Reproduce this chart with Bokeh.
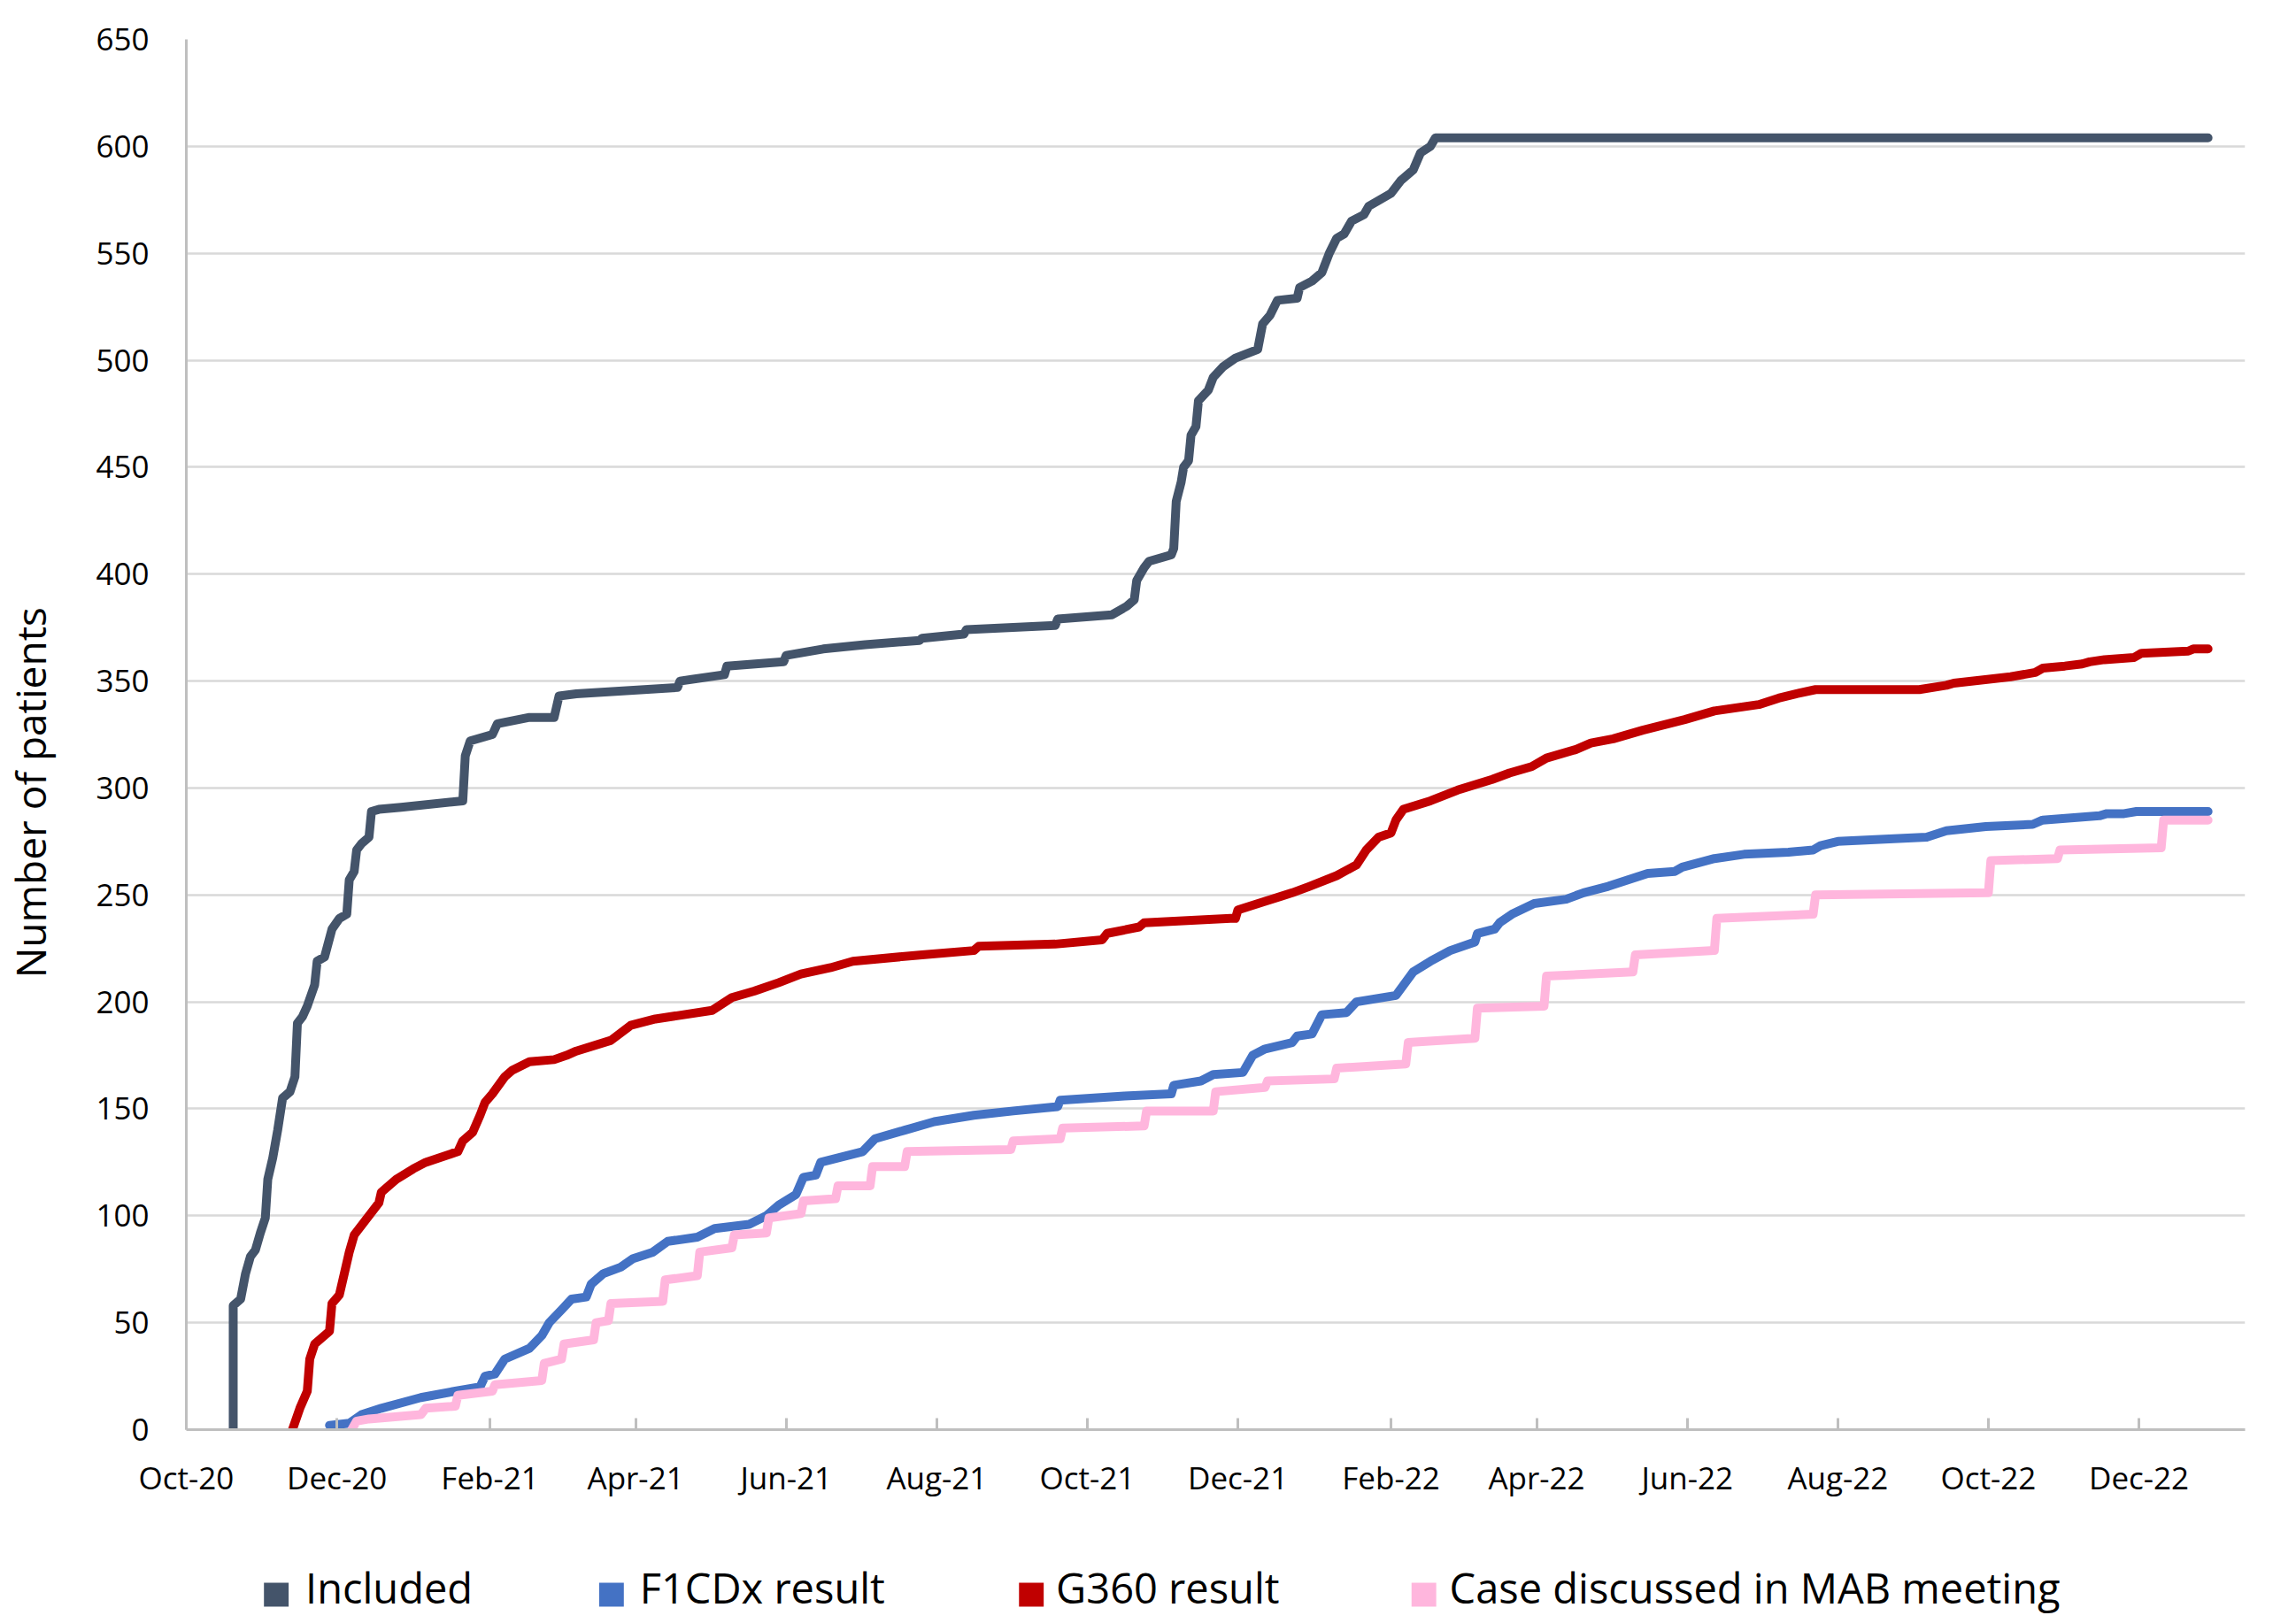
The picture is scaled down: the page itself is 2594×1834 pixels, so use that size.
import pandas as pd
from bokeh.plotting import figure
from bokeh.layouts import column
from bokeh.models import (ColumnDataSource, FixedTicker, DatetimeTickFormatter,
                          Range1d, SingleIntervalTicker)
from bokeh.core.properties import value
from bokeh.embed import file_html
from bokeh.resources import INLINE

# ---------------- data ----------------
included_dates = [
    "2020-10-20", "2020-10-20", "2020-10-23", "2020-10-25", "2020-10-27", "2020-10-29",
    "2020-10-31", "2020-11-02", "2020-11-03", "2020-11-05", "2020-11-07", "2020-11-09",
    "2020-11-12", "2020-11-14", "2020-11-15", "2020-11-17", "2020-11-19", "2020-11-22",
    "2020-11-23", "2020-11-26", "2020-11-29", "2020-12-02", "2020-12-05", "2020-12-06",
    "2020-12-08", "2020-12-09", "2020-12-11", "2020-12-14", "2020-12-15", "2020-12-18",
    "2020-12-27", "2021-01-21", "2021-01-22", "2021-01-24", "2021-02-02", "2021-02-04",
    "2021-02-17", "2021-02-27", "2021-03-01", "2021-03-08", "2021-04-18", "2021-04-19",
    "2021-05-07", "2021-05-08", "2021-05-31", "2021-06-01", "2021-06-16", "2021-07-03",
    "2021-07-25", "2021-07-26", "2021-08-12", "2021-08-13", "2021-09-18", "2021-09-19",
    "2021-10-11", "2021-10-17", "2021-10-20", "2021-10-21", "2021-10-24", "2021-10-26",
    "2021-11-04", "2021-11-05", "2021-11-06", "2021-11-08", "2021-11-09", "2021-11-11",
    "2021-11-12", "2021-11-14", "2021-11-15", "2021-11-19", "2021-11-21", "2021-11-25",
    "2021-11-30", "2021-12-09", "2021-12-11", "2021-12-14", "2021-12-17", "2021-12-25",
    "2021-12-26", "2021-12-31", "2022-01-04", "2022-01-07", "2022-01-10", "2022-01-13",
    "2022-01-16", "2022-01-21", "2022-01-23", "2022-02-01", "2022-02-05", "2022-02-10",
    "2022-02-13", "2022-02-17", "2022-02-19", "2022-12-29",
]
included_values = [
    0, 58, 61, 73, 81, 84,
    92, 99, 117, 127, 140, 155,
    158, 165, 190, 193, 198, 208,
    219, 221, 234, 239, 241, 257,
    261, 271, 274, 277, 289, 290,
    291, 294, 315, 322, 325, 330,
    333, 333, 343, 344, 347, 350,
    353, 357, 359, 362, 365, 367,
    369, 370, 372, 374, 376, 379,
    381, 385, 388, 397, 403, 406,
    409, 412, 434, 443, 450, 453,
    465, 469, 481, 486, 492, 497,
    501, 505, 517, 521, 528, 529,
    534, 537, 541, 550, 557, 559,
    565, 568, 572, 578, 584, 589,
    597, 600, 604, 604,
]

f1cdx_dates = [
    "2020-11-28", "2020-12-06", "2020-12-11", "2020-12-19", "2021-01-04", "2021-01-18",
    "2021-01-28", "2021-01-30", "2021-02-03", "2021-02-07", "2021-02-17", "2021-02-22",
    "2021-02-25", "2021-03-02", "2021-03-06", "2021-03-12", "2021-03-14", "2021-03-19",
    "2021-03-26", "2021-03-31", "2021-04-08", "2021-04-14", "2021-04-26", "2021-05-03",
    "2021-05-17", "2021-05-24", "2021-05-29", "2021-06-05", "2021-06-08", "2021-06-13",
    "2021-06-15", "2021-07-02", "2021-07-07", "2021-07-19", "2021-07-31", "2021-08-16",
    "2021-09-01", "2021-09-19", "2021-09-20", "2021-10-16", "2021-11-04", "2021-11-05",
    "2021-11-16", "2021-11-21", "2021-12-03", "2021-12-07", "2021-12-12", "2021-12-23",
    "2021-12-25", "2021-12-31", "2022-01-04", "2022-01-14", "2022-01-18", "2022-02-03",
    "2022-02-10", "2022-02-17", "2022-02-25", "2022-03-07", "2022-03-08", "2022-03-15",
    "2022-03-17", "2022-03-22", "2022-03-31", "2022-04-13", "2022-04-20", "2022-04-30",
    "2022-05-16", "2022-05-27", "2022-05-30", "2022-06-12", "2022-06-24", "2022-07-12",
    "2022-07-22", "2022-07-25", "2022-08-01", "2022-09-06", "2022-09-14", "2022-09-30",
    "2022-10-19", "2022-10-23", "2022-11-15", "2022-11-18", "2022-11-25", "2022-11-30",
    "2022-12-29",
]
f1cdx_values = [
    2, 3, 7, 10, 15, 18,
    20, 25, 26, 33, 38, 44,
    50, 56, 61, 62, 68, 73,
    76, 80, 83, 88, 90, 94,
    96, 100, 105, 110, 118, 119,
    125, 130, 136, 140, 144, 147,
    149, 151, 154, 156, 157, 161,
    163, 166, 167, 175, 178, 181,
    184, 185, 194, 195, 200, 203,
    214, 219, 224, 228, 232, 234,
    237, 241, 246, 248, 251, 254,
    260, 261, 263, 267, 269, 270,
    271, 273, 275, 277, 280, 282,
    283, 285, 287, 288, 288, 289,
    289,
]

g360_dates = [
    "2020-11-13", "2020-11-16", "2020-11-19", "2020-11-20", "2020-11-22", "2020-11-25",
    "2020-11-28", "2020-11-29", "2020-12-02", "2020-12-04", "2020-12-06", "2020-12-08",
    "2020-12-10", "2020-12-12", "2020-12-18", "2020-12-19", "2020-12-25", "2021-01-01",
    "2021-01-06", "2021-01-19", "2021-01-21", "2021-01-25", "2021-01-28", "2021-01-30",
    "2021-02-02", "2021-02-07", "2021-02-10", "2021-02-17", "2021-02-27", "2021-03-04",
    "2021-03-08", "2021-03-22", "2021-03-30", "2021-04-09", "2021-05-02", "2021-05-10",
    "2021-05-19", "2021-05-29", "2021-06-07", "2021-06-19", "2021-06-28", "2021-07-26",
    "2021-08-16", "2021-08-18", "2021-09-18", "2021-10-07", "2021-10-09", "2021-10-22",
    "2021-10-24", "2021-11-28", "2021-11-30", "2021-12-01", "2021-12-12", "2021-12-23",
    "2021-12-30", "2022-01-10", "2022-01-18", "2022-01-22", "2022-01-27", "2022-02-01",
    "2022-02-03", "2022-02-06", "2022-02-17", "2022-02-28", "2022-03-14", "2022-03-21",
    "2022-03-30", "2022-04-05", "2022-04-17", "2022-04-23", "2022-05-02", "2022-05-14",
    "2022-05-31", "2022-06-12", "2022-06-30", "2022-07-08", "2022-07-15", "2022-07-23",
    "2022-09-03", "2022-09-14", "2022-09-17", "2022-10-10", "2022-10-20", "2022-10-23",
    "2022-11-01", "2022-11-08", "2022-11-11", "2022-11-17", "2022-11-29", "2022-12-02",
    "2022-12-21", "2022-12-23", "2022-12-29",
]
g360_values = [
    0, 10, 18, 33, 40, 43,
    46, 59, 63, 73, 83, 91,
    94, 97, 106, 111, 117, 122,
    125, 130, 135, 139, 147, 153,
    157, 165, 168, 172, 173, 175,
    177, 182, 189, 192, 196, 202,
    205, 209, 213, 216, 219, 222,
    224, 226, 227, 229, 232, 235,
    237, 239, 239, 243, 247, 251,
    254, 259, 264, 271, 277, 279,
    285, 290, 294, 299, 304, 307,
    310, 314, 318, 321, 323, 327,
    332, 336, 339, 342, 344, 346,
    346, 348, 349, 352, 354, 356,
    357, 358, 359, 360, 361, 363,
    364, 365, 365,
]

mab_dates = [
    "2020-12-07", "2020-12-09", "2020-12-14", "2021-01-04", "2021-01-06", "2021-01-18",
    "2021-01-19", "2021-02-02", "2021-02-03", "2021-02-22", "2021-02-23", "2021-03-02",
    "2021-03-03", "2021-03-15", "2021-03-16", "2021-03-21", "2021-03-22", "2021-04-12",
    "2021-04-13", "2021-04-26", "2021-04-27", "2021-05-10", "2021-05-11", "2021-05-24",
    "2021-05-25", "2021-06-07", "2021-06-08", "2021-06-21", "2021-06-22", "2021-07-05",
    "2021-07-06", "2021-07-19", "2021-07-20", "2021-08-31", "2021-09-01", "2021-09-20",
    "2021-09-21", "2021-10-24", "2021-10-25", "2021-11-21", "2021-11-22", "2021-12-12",
    "2021-12-13", "2022-01-09", "2022-01-10", "2022-02-07", "2022-02-08", "2022-03-07",
    "2022-03-08", "2022-04-04", "2022-04-05", "2022-05-10", "2022-05-11", "2022-06-12",
    "2022-06-13", "2022-07-22", "2022-07-23", "2022-10-01", "2022-10-02", "2022-10-29",
    "2022-10-30", "2022-12-10", "2022-12-11", "2022-12-29",
]
mab_values = [
    0, 4, 5, 7, 10, 11,
    16, 18, 21, 23, 31, 33,
    40, 42, 50, 51, 59, 60,
    70, 72, 83, 85, 91, 92,
    99, 101, 107, 108, 114, 114,
    123, 123, 130, 131, 135, 136,
    141, 142, 149, 149, 158, 160,
    163, 164, 169, 171, 181, 183,
    197, 198, 212, 214, 222, 224,
    239, 241, 250, 251, 266, 267,
    271, 272, 285, 285,
]

series_names = ["Included", "F1CDx result", "G360 result", "Case discussed in MAB meeting"]
series_colors = ["#44546A", "#4472C4", "#C00000", "#FFB6DD"]

x_tick_dates = ["2020-10-01", "2020-12-01", "2021-02-01", "2021-04-01", "2021-06-01",
                "2021-08-01", "2021-10-01", "2021-12-01", "2022-02-01", "2022-04-01",
                "2022-06-01", "2022-08-01", "2022-10-01", "2022-12-01"]
x_start, x_end = "2020-10-01", "2023-01-13"
y_start, y_end, y_step = 0, 650, 50
y_title = "Number of patients"

# ---------------- layout / style ----------------
FONT = "Open Sans"
W = 2578
H_MAIN, H_LEG = 1720, 106
BORDER_L, BORDER_R = 202, 42

p = figure(width=W, height=H_MAIN, output_backend="svg", toolbar_location=None,
           x_axis_type="datetime",
           x_range=Range1d(pd.Timestamp(x_start), pd.Timestamp(x_end)),
           y_range=Range1d(y_start, y_end),
           min_border_left=BORDER_L, min_border_right=BORDER_R, min_border_top=44,
           min_border_bottom=105)
p.outline_line_color = None
p.background_fill_color = "white"
p.border_fill_color = "white"

p.xgrid.visible = False
p.ygrid.grid_line_color = "#D9D9D9"
p.ygrid.grid_line_width = 2.5

# y axis
p.yaxis.ticker = SingleIntervalTicker(interval=y_step)
p.yaxis.axis_line_color = "#BFBFBF"
p.yaxis.axis_line_width = 3
p.yaxis.major_tick_line_color = None
p.yaxis.minor_tick_line_color = None
p.yaxis.major_tick_out = 0
p.yaxis.major_tick_in = 0
p.yaxis.major_label_standoff = 38
p.yaxis.major_label_text_font = FONT
p.yaxis.major_label_text_font_size = "35px"
p.yaxis.major_label_text_color = "#000000"
# trailing no-break spaces move the centred title a little lower, as in the reference
p.yaxis.axis_label = y_title + "\u00a0" * 11
p.yaxis.axis_label_text_font = FONT
p.yaxis.axis_label_text_font_size = "46px"
p.yaxis.axis_label_text_font_style = "normal"
p.yaxis.axis_label_text_color = "#000000"
p.yaxis.axis_label_standoff = 40

# x axis
tick_ms = [pd.Timestamp(d).timestamp() * 1000 for d in x_tick_dates]
p.xaxis.ticker = FixedTicker(ticks=tick_ms)
fmt = "%b-%y"
p.xaxis.formatter = DatetimeTickFormatter(
    microseconds=fmt, milliseconds=fmt, seconds=fmt, minsec=fmt, minutes=fmt,
    hourmin=fmt, hours=fmt, days=fmt, months=fmt, years=fmt)
p.xaxis.axis_line_color = "#BFBFBF"
p.xaxis.axis_line_width = 3
p.xaxis.major_tick_line_color = "#BFBFBF"
p.xaxis.major_tick_line_width = 3
p.xaxis.major_tick_in = 13
p.xaxis.major_tick_out = 0
p.xaxis.minor_tick_line_color = None
p.xaxis.major_label_standoff = 30
p.xaxis.major_label_text_font = FONT
p.xaxis.major_label_text_font_size = "35px"
p.xaxis.major_label_text_color = "#000000"

all_dates = [included_dates, f1cdx_dates, g360_dates, mab_dates]
all_values = [included_values, f1cdx_values, g360_values, mab_values]
for color, d, v in zip(series_colors, all_dates, all_values):
    src = ColumnDataSource(dict(x=pd.to_datetime(d), y=v))
    p.line("x", "y", source=src, line_color=color, line_width=10,
           line_join="round", line_cap="round")

# ---------------- legend strip (separate figure; its frame is aligned with the
# main frame by the column layout, so its x range is given in page pixels) ----------------
leg = figure(width=W, height=H_LEG, output_backend="svg", toolbar_location=None,
             x_range=Range1d(BORDER_L, W - BORDER_R), y_range=Range1d(0, H_LEG),
             x_axis_location=None, y_axis_location=None,
             min_border_left=BORDER_L, min_border_right=BORDER_R,
             min_border_top=0, min_border_bottom=0)
leg.outline_line_color = None
leg.grid.visible = False
leg.background_fill_color = "white"
leg.border_fill_color = "white"

sq_left = [290, 670, 1146, 1591]
sq_size = 28
txt_left = [337, 716, 1188, 1634]
sq_bottom, sq_height = 11, 27
txt_mid = 33
leg.quad(left=sq_left, right=[s + sq_size for s in sq_left],
         bottom=[sq_bottom] * 4, top=[sq_bottom + sq_height] * 4,
         fill_color=series_colors, line_color=None)
leg.text(x=txt_left, y=[txt_mid] * 4, text=series_names,
         text_font=value(FONT), text_font_size="47px", text_color="#000000",
         text_align="left", text_baseline="middle")

layout = column(p, leg, spacing=0)
open("out.html", "w").write(file_html(layout, INLINE))
